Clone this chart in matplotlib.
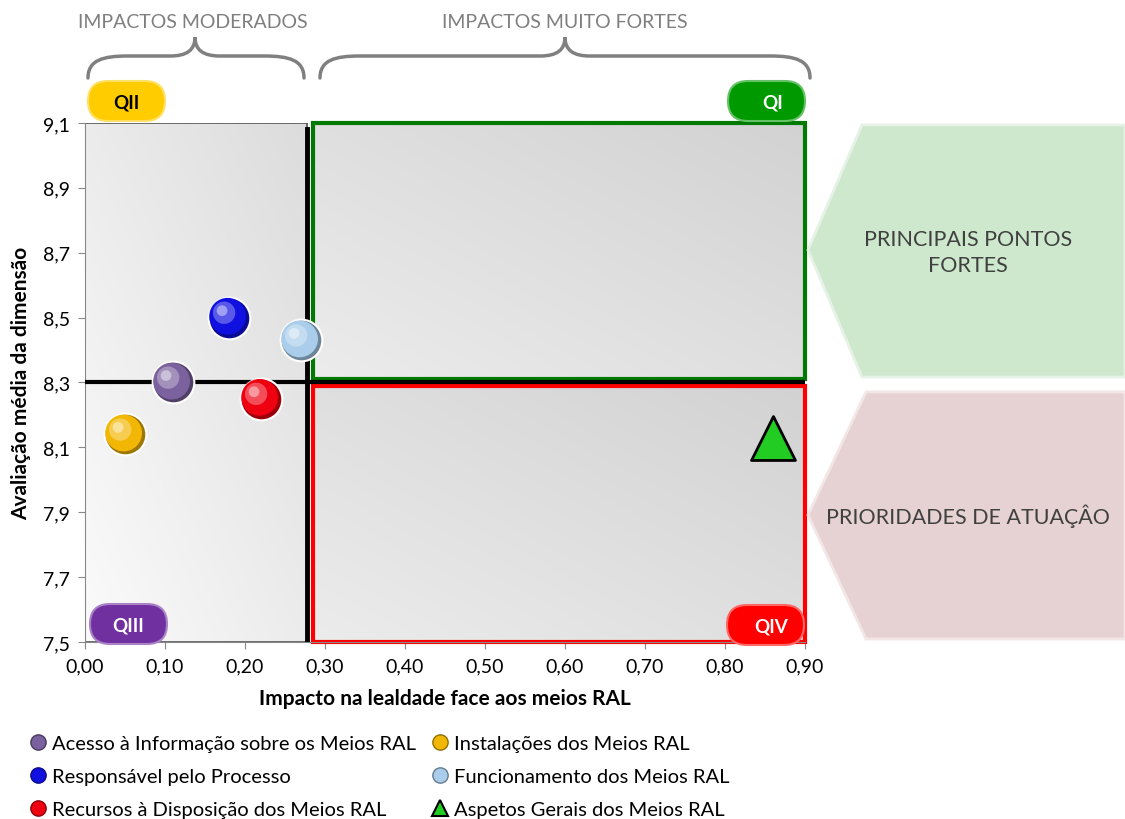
import matplotlib.pyplot as plt
import numpy as np
from matplotlib.patches import Rectangle, Polygon, FancyBboxPatch, PathPatch
from matplotlib.path import Path
from matplotlib.lines import Line2D
from matplotlib.ticker import FuncFormatter, FixedLocator
from matplotlib.transforms import offset_copy
from matplotlib.colors import to_rgb, LinearSegmentedColormap

plt.rcParams['font.family'] = ['Lato', 'DejaVu Sans']

# Dimensions (legend order as in the chart)
categories = ['Acesso à Informação sobre os Meios RAL',
              'Instalações dos Meios RAL',
              'Responsável pelo Processo',
              'Funcionamento dos Meios RAL',
              'Recursos à Disposição dos Meios RAL',
              'Aspetos Gerais dos Meios RAL']

# Impact on loyalty (x) and mean evaluation (y)
impact = [0.11, 0.05, 0.18, 0.27, 0.22, 0.86]
evaluation = [8.30, 8.14, 8.50, 8.43, 8.25, 8.13]

# Quadrant thresholds
impact_cut = 0.278
evaluation_cut = 8.30

x_ticks = [0.0, 0.1, 0.2, 0.3, 0.4, 0.5, 0.6, 0.7, 0.8, 0.9]
y_ticks = [7.5, 7.7, 7.9, 8.1, 8.3, 8.5, 8.7, 8.9, 9.1]

x_min, x_max = 0.0, 0.9
y_min, y_max = 7.5, 9.1

colors = ['#7b619e', '#f2b705', '#1010e0', '#a9cdea', '#ee0010', '#22cc22']


def lighten(c, f):
    r = np.array(to_rgb(c))
    return tuple(r + (1 - r) * f)


def darken(c, f):
    return tuple(np.array(to_rgb(c)) * f)


fig = plt.figure(figsize=(11.25, 8.2), dpi=100)
ax = fig.add_axes([85 / 1125, 1 - 643 / 820, 720 / 1125, 519 / 820])
ax.set_xlim(x_min, x_max)
ax.set_ylim(y_min, y_max)

# gradient backgrounds of the quadrants
grad = np.linspace(0, 1, 256).reshape(1, -1)
grad2d = (grad + grad.T) / 2
cmap_left = LinearSegmentedColormap.from_list('l', ['#fbfbfb', '#dcdcdc'])
cmap_right = LinearSegmentedColormap.from_list('r', ['#ececec', '#d2d2d2'])
ax.imshow(grad2d, extent=[x_min, impact_cut, y_max, y_min], cmap=cmap_left,
          aspect='auto', zorder=0)
ax.add_patch(Rectangle((x_min, y_min), impact_cut - x_min, y_max - y_min,
                       fill=False, edgecolor='#555555', lw=1.2, zorder=1))
ax.imshow(grad2d, extent=[0.285, x_max, y_max, 8.31], cmap=cmap_right,
          aspect='auto', zorder=0)
ax.imshow(grad2d, extent=[0.285, x_max, 8.29, y_min], cmap=cmap_right,
          aspect='auto', zorder=0)
ax.add_patch(Rectangle((0.285, 8.31), x_max - 0.285, y_max - 8.31,
                       fill=False, edgecolor='#007a00', lw=3, zorder=2, clip_on=False))
ax.add_patch(Rectangle((0.285, y_min), x_max - 0.285, 8.29 - y_min,
                       fill=False, edgecolor='#ff0000', lw=3, zorder=2, clip_on=False))

# quadrant dividing lines
ax.plot([x_min, x_max], [evaluation_cut, evaluation_cut], color='black', lw=3, zorder=3)
ax.plot([impact_cut, impact_cut], [y_min, 9.08], color='black', lw=3.5, zorder=3)

# markers
handles = []
for i, (x, y, c, name) in enumerate(zip(impact, evaluation, colors, categories)):
    if i == 5:
        ax.scatter(x, y, s=1000, marker='^', c=[c], edgecolors='black',
                   linewidths=2, zorder=6)
        handles.append(Line2D([], [], ls='', marker='^', markersize=12,
                              markerfacecolor=c, markeredgecolor='black', mew=1.5))
        continue
    layers = [(900, 0, 0, darken(c, 0.65)),
              (700, -1.0, 1.0, c),
              (260, -3.5, 3.5, lighten(c, 0.3)),
              (60, -5, 5, lighten(c, 0.6))]
    for s, dx, dy, col in layers:
        tr = offset_copy(ax.transData, fig=fig, x=dx, y=dy, units='points')
        ax.scatter(x, y, s=s, c=[col], transform=tr, zorder=6,
                   edgecolors='white' if s == 900 else 'none',
                   linewidths=1.5 if s == 900 else 0)
    handles.append(Line2D([], [], ls='', marker='o', markersize=11,
                          markerfacecolor=c, markeredgecolor=darken(c, 0.6)))

# axes formatting
ax.xaxis.set_major_locator(FixedLocator(x_ticks))
ax.yaxis.set_major_locator(FixedLocator(y_ticks))
ax.xaxis.set_major_formatter(FuncFormatter(lambda v, p: f'{v:.2f}'.replace('.', ',')))
ax.yaxis.set_major_formatter(FuncFormatter(lambda v, p: f'{v:.1f}'.replace('.', ',')))
ax.tick_params(direction='out', length=5, color='#888888', labelsize=14, pad=6)
for side in ['top', 'right']:
    ax.spines[side].set_visible(False)
for side in ['left', 'bottom']:
    ax.spines[side].set_color('#888888')
ax.set_xlabel('Impacto na lealdade face aos meios RAL', fontsize=15,
              fontweight='bold', labelpad=10)
ax.set_ylabel('Avaliação média da dimensão', fontsize=15, fontweight='bold', labelpad=8)

# decorations in pixel coordinates
deco = fig.add_axes([0, 0, 1, 1], zorder=5)
deco.set_xlim(0, 1125)
deco.set_ylim(820, 0)
deco.axis('off')
deco.patch.set_alpha(0)


def brace(x0, x1, xm, ytop=38, ymid=57, ybot=79):
    verts = [(x0, ybot), (x0, ymid + 4), (x0 + 15, ymid), (x0 + 40, ymid),
             (xm - 25, ymid), (xm - 8, ymid), (xm, ymid - 6), (xm, ytop),
             (xm, ymid - 6), (xm + 8, ymid), (xm + 25, ymid),
             (x1 - 40, ymid), (x1 - 15, ymid), (x1, ymid + 4), (x1, ybot)]
    codes = [Path.MOVETO, Path.CURVE4, Path.CURVE4, Path.CURVE4,
             Path.LINETO, Path.CURVE4, Path.CURVE4, Path.CURVE4,
             Path.CURVE4, Path.CURVE4, Path.CURVE4,
             Path.LINETO, Path.CURVE4, Path.CURVE4, Path.CURVE4]
    deco.add_patch(PathPatch(Path(verts, codes), fill=False, edgecolor='#808080',
                             lw=2.5, capstyle='round'))


brace(88, 304, 195)
brace(320, 810, 565)
deco.text(193, 22, 'IMPACTOS MODERADOS', ha='center', va='center',
          fontsize=14, color='#7f7f7f')
deco.text(565, 22, 'IMPACTOS MUITO FORTES', ha='center', va='center',
          fontsize=14, color='#7f7f7f')

# quadrant pills
pills = [('QII', 88, 82, '#ffcc00', 'black'),
         ('QI', 728, 82, '#009900', 'white'),
         ('QIII', 90, 605, '#7030a0', 'white'),
         ('QIV', 727, 606, '#ff0000', 'white')]
for label, px, py, fc, tc in pills:
    deco.add_patch(FancyBboxPatch((px, py), 77, 40, boxstyle='round,pad=0,rounding_size=20',
                                  facecolor=fc, edgecolor=lighten(fc, 0.4), lw=1.5))
    deco.text(px + 38.5 + (6 if label in ('QI', 'QIV') else 0), py + 21, label,
              ha='center', va='center', fontsize=13.5, fontweight='bold', color=tc)

# side arrows
deco.add_patch(Polygon([(808, 251), (862, 126), (1125, 126), (1125, 378), (862, 378)],
                       closed=True, facecolor='#cde8cd', edgecolor='#e6f2e6', lw=2))
deco.text(968, 253, 'PRINCIPAIS PONTOS\nFORTES', ha='center', va='center',
          fontsize=15.5, color='#404040', linespacing=1.35)
deco.add_patch(Polygon([(808, 516), (866, 393), (1125, 393), (1125, 640), (866, 640)],
                       closed=True, facecolor='#e6d2d2', edgecolor='#f2e6e6', lw=2))
deco.text(968, 516, 'PRIORIDADES DE ATUAÇÂO', ha='center', va='center',
          fontsize=15.5, color='#404040')

# legend (column-wise order so rows read as in the chart)
order = [0, 2, 4, 1, 3, 5]
fig.legend([handles[i] for i in order], [categories[i] for i in order],
           loc='upper left', bbox_to_anchor=(18 / 1125, 1 - 728 / 820), ncol=2,
           frameon=False, fontsize=14.5, handletextpad=0.1, handlelength=1.2,
           columnspacing=0.6, labelspacing=0.78, borderaxespad=0)

fig.savefig('out.png', dpi=100)
